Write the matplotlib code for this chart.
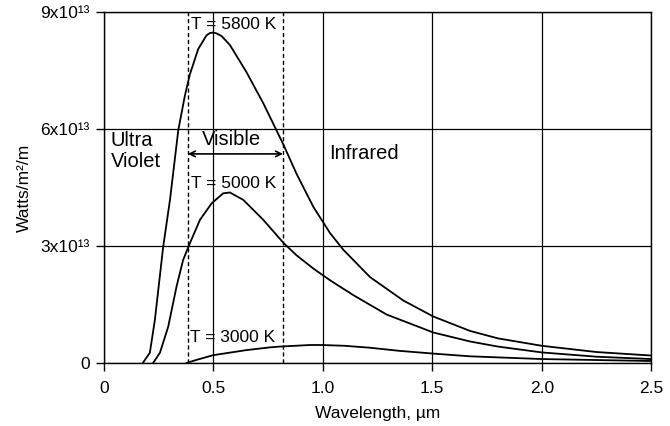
import numpy as np
import matplotlib
matplotlib.use('Agg')
import matplotlib.pyplot as plt

plt.rcParams['font.family'] = ['Liberation Sans', 'DejaVu Sans']

# values, y in units of 1e13 W/m^2/m
wl_5800 = [0.178, 0.21, 0.233, 0.271, 0.302, 0.34, 0.37, 0.393, 0.431, 0.469, 0.485, 0.5,
           0.515, 0.538, 0.576, 0.652, 0.728, 0.774, 0.82, 0.88, 0.957, 1.033, 1.094,
           1.216, 1.368, 1.505, 1.673, 1.8, 2.0, 2.25, 2.5]
e_5800 = [0.0, 0.26, 1.1, 2.98, 4.18, 5.97, 6.85, 7.4, 8.05, 8.4, 8.46, 8.47,
          8.45, 8.38, 8.15, 7.45, 6.66, 6.13, 5.6, 4.85, 4.0, 3.33, 2.9,
          2.2, 1.6, 1.19, 0.82, 0.63, 0.44, 0.28, 0.19]

wl_5000 = [0.225, 0.256, 0.294, 0.332, 0.362, 0.393, 0.439, 0.492, 0.545, 0.576, 0.637,
           0.728, 0.82, 0.88, 0.957, 1.033, 1.139, 1.292, 1.505, 1.673, 1.8,
           2.0, 2.25, 2.5]
e_5000 = [0.0, 0.26, 0.93, 1.96, 2.64, 3.07, 3.67, 4.09, 4.35, 4.37, 4.18,
          3.67, 3.08, 2.76, 2.42, 2.12, 1.74, 1.24, 0.78, 0.55, 0.42,
          0.27, 0.16, 0.10]

wl_3000 = [0.378, 0.424, 0.5, 0.652, 0.759, 0.804, 0.941, 0.995, 1.1, 1.216, 1.35,
           1.505, 1.673, 2.0, 2.5]
e_3000 = [0.0, 0.08, 0.2, 0.33, 0.40, 0.42, 0.46, 0.46, 0.44, 0.39, 0.31,
          0.24, 0.17, 0.10, 0.05]

visible_edges = [0.384, 0.818]

x_ticks = [0, 0.5, 1.0, 1.5, 2.0, 2.5]
x_labels = ['0', '0.5', '1.0', '1.5', '2.0', '2.5']
y_ticks = [0, 3e13, 6e13, 9e13]
y_labels = ['0', '3x10\u00b9\u00b3', '6x10\u00b9\u00b3', '9x10\u00b9\u00b3']

fig = plt.figure(figsize=(6.7, 4.26), dpi=100)
ax = fig.add_axes([0.155, 0.148, 0.817, 0.824])

for wl, e in [(wl_5800, e_5800), (wl_5000, e_5000), (wl_3000, e_3000)]:
    ax.plot(wl, np.array(e) * 1e13, color='black', lw=1.3, zorder=3)

for xv in visible_edges:
    ax.plot([xv, xv], [0, 9e13], color='black', lw=1.0, ls=(0, (3, 2)), zorder=2)

ax.annotate('', xy=(visible_edges[0], 5.36e13), xytext=(visible_edges[1], 5.36e13),
            arrowprops=dict(arrowstyle='<->', lw=1.2, color='black',
                            shrinkA=0, shrinkB=0))

ax.text(0.585, 5.72e13, 'Visible', ha='center', va='center', fontsize=14.5)
ax.text(0.032, 5.95e13, 'Ultra\nViolet', ha='left', va='top', fontsize=14.5,
        linespacing=1.15)
ax.text(1.028, 5.38e13, 'Infrared', ha='left', va='center', fontsize=14.5)
ax.text(0.40, 8.67e13, 'T = 5800 K', ha='left', va='center', fontsize=12.5)
ax.text(0.40, 4.59e13, 'T = 5000 K', ha='left', va='center', fontsize=12.5)
ax.text(0.393, 0.65e13, 'T = 3000 K', ha='left', va='center', fontsize=12.5)

ax.set_xlim(0, 2.5)
ax.set_ylim(0, 9e13)
ax.set_xticks(x_ticks)
ax.set_xticklabels(x_labels)
ax.set_yticks(y_ticks)
ax.set_yticklabels(y_labels)
ax.tick_params(direction='out', length=6, width=1.0, color='black',
               labelsize=12.5, pad=4)
ax.tick_params(axis='x', pad=7)
ax.grid(True, color='black', lw=0.9)
ax.set_axisbelow(True)
for s in ax.spines.values():
    s.set_linewidth(1.0)

ax.set_xlabel('Wavelength, \u00b5m', fontsize=12.5, labelpad=7)
ax.set_ylabel('Watts/m\u00b2/m', fontsize=12.5)
ax.yaxis.set_label_coords(-0.132, 0.5)

fig.savefig('out.png', dpi=100)
